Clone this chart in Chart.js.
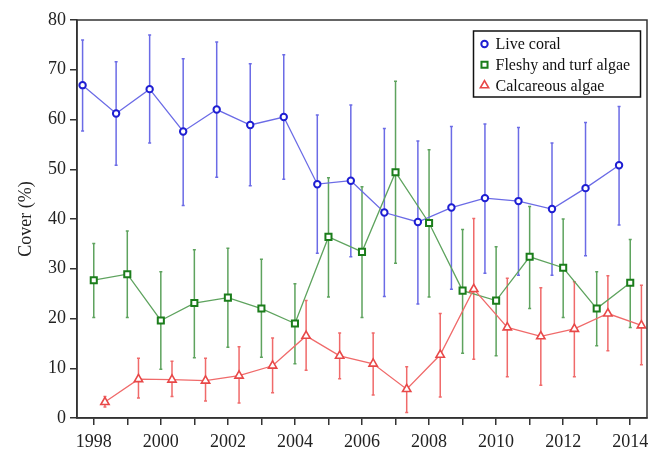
<!DOCTYPE html>
<html>
<head>
<meta charset="utf-8">
<script src="https://cdn.jsdelivr.net/npm/chart.js@4.4.0/dist/chart.umd.min.js"></script>
<style>
  html, body { margin: 0; padding: 0; background: #fff; }
</style>
</head>
<body>
<canvas id="coverChart" width="659" height="451"></canvas>
<script>
// ===== DATA =====
const years = [1998, 1999, 2000, 2001, 2002, 2003, 2004, 2005, 2006, 2007, 2008, 2009, 2010, 2011, 2012, 2013, 2014];
const yearLabels = ['1998', '2000', '2002', '2004', '2006', '2008', '2010', '2012', '2014'];

const coralMean = [66.9, 61.2, 66.1, 57.6, 62.0, 58.9, 60.5, 47.0, 47.7, 41.3, 39.4, 42.3, 44.2, 43.6, 42.0, 46.2, 50.8];
const coralLow  = [57.7, 50.8, 55.3, 42.7, 48.4, 46.7, 48.0, 33.1, 32.4, 24.4, 22.9, 25.9, 29.1, 28.7, 28.7, 32.6, 38.8];
const coralHigh = [76.0, 71.6, 77.0, 72.2, 75.6, 71.2, 73.0, 60.9, 62.9, 58.2, 55.7, 58.6, 59.1, 58.4, 55.3, 59.4, 62.6];

const algaeMean = [27.7, 28.9, 19.6, 23.1, 24.2, 22.0, 19.0, 36.4, 33.4, 49.4, 39.2, 25.6, 23.6, 32.4, 30.2, 22.0, 27.2];
const algaeLow  = [20.2, 20.2, 9.8, 12.1, 14.2, 12.2, 10.9, 24.3, 20.2, 31.1, 24.3, 13.0, 12.5, 22.0, 20.2, 14.5, 18.2];
const algaeHigh = [35.1, 37.6, 29.4, 33.8, 34.1, 31.9, 27.0, 48.3, 46.5, 67.7, 53.9, 37.9, 34.4, 42.5, 40.0, 29.4, 35.9];

const calcMean = [3.2, 7.8, 7.7, 7.5, 8.5, 10.5, 16.5, 12.5, 10.9, 5.8, 12.7, 25.9, 18.2, 16.4, 17.9, 21.0, 18.6];
const calcLow  = [2.2, 4.0, 4.3, 3.4, 3.0, 5.1, 9.6, 7.9, 4.6, 1.1, 4.2, 11.8, 8.3, 6.6, 8.3, 13.5, 10.7];
const calcHigh = [4.3, 12.0, 11.4, 12.0, 14.3, 16.1, 23.6, 17.1, 17.1, 10.3, 21.0, 40.1, 28.1, 26.2, 27.4, 28.6, 26.7];

const SERIF = "'Liberation Serif', 'Times New Roman', serif";
const AXIS_COLOR = '#333';

// shift each series a little sideways so the error bars don't overlap
function points(mean, shift) {
  return years.map((yr, i) => ({ x: yr + shift, y: mean[i] }));
}

// ===== ERROR BARS =====
const errorBars = {
  id: 'errorBars',
  beforeDatasetsDraw(chart) {
    const ctx = chart.ctx;
    const yScale = chart.scales.y;
    chart.data.datasets.forEach((ds, i) => {
      const meta = chart.getDatasetMeta(i);
      ctx.save();
      ctx.strokeStyle = ds.borderColor;
      ctx.lineWidth = 1.5;
      meta.data.forEach((pt, j) => {
        const yLo = yScale.getPixelForValue(ds.errLow[j]);
        const yHi = yScale.getPixelForValue(ds.errHigh[j]);
        ctx.beginPath();
        ctx.moveTo(pt.x, yLo);
        ctx.lineTo(pt.x, yHi);
        ctx.moveTo(pt.x - 1.5, yLo);
        ctx.lineTo(pt.x + 1.5, yLo);
        ctx.moveTo(pt.x - 1.5, yHi);
        ctx.lineTo(pt.x + 1.5, yHi);
        ctx.stroke();
      });
      ctx.restore();
    });
  }
};

// ===== FRAME + LEGEND BOX =====
const frameAndLegend = {
  id: 'frameAndLegend',
  afterDraw(chart) {
    const ctx = chart.ctx;
    const a = chart.chartArea;
    ctx.save();
    ctx.strokeStyle = AXIS_COLOR;
    ctx.lineWidth = 1.5;
    ctx.strokeRect(a.left, a.top, a.right - a.left, a.bottom - a.top);

    // legend box in the top right corner
    const bx = 473.5, by = 31, bw = 167, bh = 66;
    ctx.fillStyle = '#fff';
    ctx.fillRect(bx, by, bw, bh);
    ctx.strokeStyle = '#111';
    ctx.strokeRect(bx, by, bw, bh);

    ctx.font = '16px ' + SERIF;
    ctx.textBaseline = 'middle';
    chart.data.datasets.forEach((ds, i) => {
      const y = by + 13 + i * 20.7;
      ctx.strokeStyle = ds.pointBorderColor;
      ctx.fillStyle = '#fff';
      ctx.lineWidth = ds.pointBorderWidth;
      Chart.helpers.drawPoint(ctx, {
        pointStyle: ds.pointStyle,
        radius: ds.pointRadius,
        borderWidth: ds.pointBorderWidth,
        rotation: 0
      }, bx + 11, y);
      ctx.fillStyle = '#111';
      ctx.fillText(ds.label, bx + 22, y + 1);
    });
    ctx.restore();
  }
};

const ctx = document.getElementById('coverChart');
const coverChart = new Chart(ctx, {
  type: 'line',
  data: {
    datasets: [
      {
        label: 'Live coral',
        data: points(coralMean, -1 / 3),
        errLow: coralLow,
        errHigh: coralHigh,
        borderColor: '#6b6be6',
        borderWidth: 1.3,
        pointStyle: 'circle',
        pointRadius: 3.2,
        pointBorderWidth: 2,
        pointBorderColor: '#1e1ed2',
        pointBackgroundColor: '#fff',
        order: 3
      },
      {
        label: 'Fleshy and turf algae',
        data: points(algaeMean, 0),
        errLow: algaeLow,
        errHigh: algaeHigh,
        borderColor: '#5ea35e',
        borderWidth: 1.3,
        pointStyle: 'rect',
        pointRadius: 4.3,
        pointBorderWidth: 2,
        pointBorderColor: '#1b7d1b',
        pointBackgroundColor: '#fff',
        order: 2
      },
      {
        label: 'Calcareous algae',
        data: points(calcMean, 1 / 3),
        errLow: calcLow,
        errHigh: calcHigh,
        borderColor: '#f06a6a',
        borderWidth: 1.3,
        pointStyle: 'triangle',
        pointRadius: 4.8,
        pointBorderWidth: 1.6,
        pointBorderColor: '#e84848',
        pointBackgroundColor: '#fff',
        order: 1
      }
    ]
  },
  options: {
    responsive: false,
    animation: false,
    layout: { padding: { left: 0, top: 20, right: 12, bottom: 0 } },
    plugins: {
      legend: { display: false },
      tooltip: { enabled: false }
    },
    scales: {
      x: {
        type: 'linear',
        min: 1997.5,
        max: 2014.5,
        afterBuildTicks: (scale) => {
          scale.ticks = years.map(v => ({ value: v }));
        },
        afterFit: (scale) => { scale.height = 33; },
        ticks: {
          autoSkip: false,
          maxRotation: 0,
          padding: 6,
          color: '#222',
          font: { family: SERIF, size: 18 },
          callback: (v) => yearLabels.includes(String(v)) ? String(v) : ''
        },
        grid: { drawOnChartArea: false, drawTicks: true, tickLength: 7, color: AXIS_COLOR, lineWidth: 1.5 },
        border: { display: true, color: AXIS_COLOR, width: 1.5 }
      },
      y: {
        min: 0,
        max: 80,
        afterFit: (scale) => { scale.width = 77; },
        ticks: {
          stepSize: 10,
          padding: 4,
          color: '#222',
          font: { family: SERIF, size: 18 }
        },
        title: {
          display: true,
          text: 'Cover (%)',
          color: '#222',
          font: { family: SERIF, size: 18 },
          padding: { top: 15, bottom: 0 }
        },
        grid: { drawOnChartArea: false, drawTicks: true, tickLength: 7, color: AXIS_COLOR, lineWidth: 1.5 },
        border: { display: true, color: AXIS_COLOR, width: 1.5 }
      }
    }
  },
  plugins: [errorBars, frameAndLegend]
});
</script>
</body>
</html>
